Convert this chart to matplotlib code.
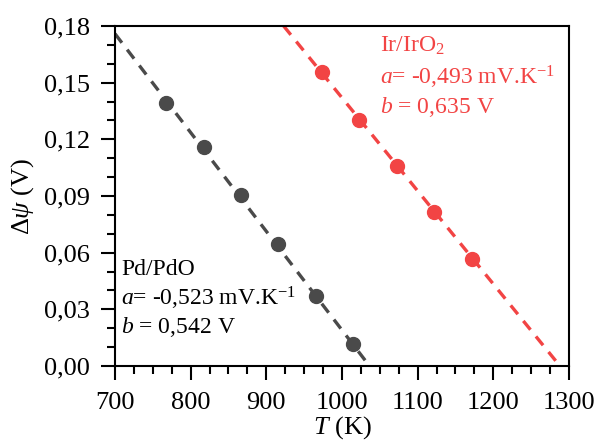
import numpy as np
import matplotlib
matplotlib.use("Agg")
import matplotlib.pyplot as plt
from matplotlib.ticker import MultipleLocator, FuncFormatter

plt.rcParams["font.family"] = "Liberation Serif"
plt.rcParams["mathtext.fontset"] = "custom"
plt.rcParams["mathtext.rm"] = "Liberation Serif"
plt.rcParams["mathtext.it"] = "Liberation Serif:italic"

# Pd/PdO data
T_pd = [768, 817, 866, 916, 965, 1014]
dpsi_pd = [0.139, 0.116, 0.0905, 0.0645, 0.037, 0.0118]
a_pd, b_pd = -0.523e-3, 0.542

# Ir/IrO2 data
T_ir = [973, 1023, 1073, 1122, 1172]
dpsi_ir = [0.1555, 0.130, 0.106, 0.0815, 0.0565]
a_ir, b_ir = -0.493e-3, 0.635

GRAY = "#4a4a4a"
RED = "#f24444"
TXT = 17

fig = plt.figure(figsize=(5.98, 4.44), dpi=100)
ax = fig.add_axes([0.1923, 0.1757, 0.7592, 0.7657])

# linhas de ajuste: do topo (ou início do eixo) até y = 0
for a, b, c in ((a_pd, b_pd, GRAY), (a_ir, b_ir, RED)):
    t0 = max(700, (0.18 - b) / a)
    t1 = -b / a
    tt = np.array([t0, t1])
    ax.plot(tt, a * tt + b, ls=(0, (3.4, 2.6)), lw=2.4, color=c, zorder=2)

ax.plot(T_pd, dpsi_pd, "o", ms=10, color=GRAY, zorder=3)
ax.plot(T_ir, dpsi_ir, "o", ms=10, color=RED, zorder=3)

ax.set_xlim(700, 1300)
ax.set_ylim(0, 0.18)
ax.xaxis.set_major_locator(MultipleLocator(100))
ax.xaxis.set_minor_locator(MultipleLocator(25))
ax.yaxis.set_major_locator(MultipleLocator(0.03))
ax.yaxis.set_minor_locator(MultipleLocator(0.01))
ax.yaxis.set_major_formatter(FuncFormatter(lambda v, p: f"{v:.2f}".replace(".", ",")))

ax.tick_params(which="both", direction="out", width=1.5, labelsize=19, top=False, right=False)
ax.tick_params(which="major", length=10)
ax.tick_params(which="minor", length=5.5)
ax.tick_params(axis="x", which="major", pad=9)
ax.tick_params(axis="y", which="major", pad=8)
for s in ax.spines.values():
    s.set_linewidth(1.5)

ax.set_xlabel(r"$T$ (K)", fontsize=19, labelpad=0)
ax.set_ylabel(r"$\Delta\psi$ (V)", fontsize=19, labelpad=6)

kw = dict(transform=ax.transAxes, fontsize=TXT, va="baseline")
ax.text(0.013, 0.268, "Pd/PdO", color="black", **kw)
ax.text(0.013, 0.179, r"$a$= -0,523 mV.K$^{\mathregular{-1}}$", color="black", **kw)
ax.text(0.013, 0.097, r"$b$ = 0,542 V", color="black", **kw)

ax.text(0.584, 0.9235, r"Ir/IrO$_2$", color=RED, **kw)
ax.text(0.584, 0.829, r"$a$= -0,493 mV.K$^{\mathregular{-1}}$", color=RED, **kw)
ax.text(0.584, 0.744, r"$b$ = 0,635 V", color=RED, **kw)

fig.savefig("out.png", dpi=100)
